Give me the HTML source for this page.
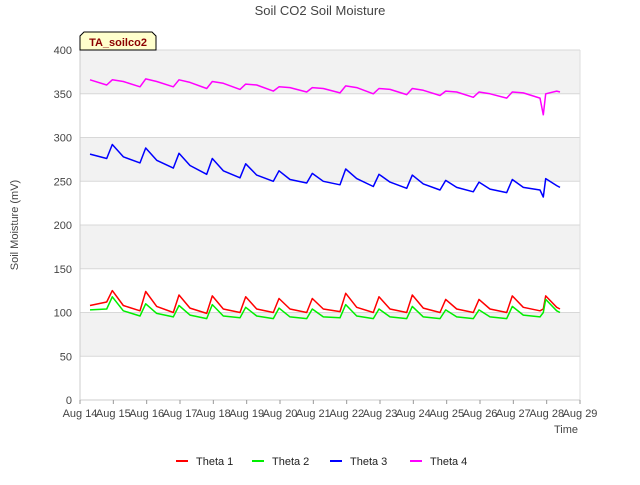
<!DOCTYPE html>
<html><head><meta charset="utf-8"><style>
body{margin:0;background:#fff;font-family:"Liberation Sans",sans-serif;}
</style></head><body>
<svg id="chart" width="640" height="480" xmlns="http://www.w3.org/2000/svg" font-family="Liberation Sans, sans-serif">
<rect width="640" height="480" fill="#fff"/>
<text x="320" y="15" text-anchor="middle" font-size="13" fill="#444">Soil CO2 Soil Moisture</text>
<g id="plot"></g>
<text transform="translate(18,225) rotate(-90)" text-anchor="middle" font-size="11" fill="#444">Soil Moisture (mV)</text>
<text x="566" y="433" text-anchor="middle" font-size="11" fill="#444">Time</text>
<g>
<path d="M80,50 L80,36 L84,32 L152,32 L156,36 L156,50 Z" fill="#ffffcc" stroke="#000" stroke-width="1"/>
<text x="118" y="46" text-anchor="middle" font-size="11" font-weight="bold" fill="#8b0000">TA_soilco2</text>
</g>
<g id="legend"></g>
</svg>
<script>
const seriesNames=["Theta 1","Theta 2","Theta 3","Theta 4"];
const colors=["#ff0000","#00ee00","#0000ff","#ff00ff"];
const yTicks=[0,50,100,150,200,250,300,350,400];
const xTickLabels=["Aug 14","Aug 15","Aug 16","Aug 17","Aug 18","Aug 19","Aug 20","Aug 21","Aug 22","Aug 23","Aug 24","Aug 25","Aug 26","Aug 27","Aug 28","Aug 29"];
const times=[14.3,14.8,14.97,15.3,15.8,15.97,16.3,16.8,16.97,17.3,17.8,17.97,18.3,18.8,18.97,19.3,19.8,19.97,20.3,20.8,20.97,21.3,21.8,21.97,22.3,22.8,22.97,23.3,23.8,23.97,24.3,24.8,24.97,25.3,25.8,25.97,26.3,26.8,26.97,27.3,27.8,27.9,27.97,28.3,28.4];
const theta1=[108,112,125,108,102,124,107,100,120,105,99,119,104,100,118,104,100,116,104,100,116,104,101,122,106,100,118,104,100,120,105,100,115,104,100,115,104,100,119,106,102,104,119,106,104];
const theta2=[103,104,118,102,96,110,99,95,108,97,93,109,96,94,106,96,93,105,95,93,104,95,94,109,96,93,104,95,93,107,95,93,103,95,93,103,95,93,107,97,95,100,115,102,100];
const theta3=[281,276,292,278,271,288,274,265,282,268,258,276,262,254,270,257,250,262,252,248,259,250,246,264,253,244,258,249,242,257,247,240,251,243,238,249,241,237,252,243,240,232,253,245,243];
const theta4=[366,360,366,364,358,367,364,358,366,363,356,364,362,355,361,360,353,358,357,352,357,356,351,359,357,350,356,355,349,356,354,348,353,352,346,352,350,345,352,351,345,326,350,353,352];
const allSeries=[theta1,theta2,theta3,theta4];
const NS="http://www.w3.org/2000/svg";
const X0=80,X1=580,Y0=400,Y1=50;
const xs=d=>X0+(d-14)*(X1-X0)/15;
const ys=v=>Y0-v*(Y0-Y1)/400;
const plot=document.getElementById('plot');
function mk(tag,attrs,parent){const e=document.createElementNS(NS,tag);for(const k in attrs)e.setAttribute(k,attrs[k]);parent.appendChild(e);return e;}
for(let i=0;i<yTicks.length-1;i++){
  if(i%2===1){const r=mk('rect',{x:X0,y:ys(yTicks[i+1]),width:X1-X0,height:ys(yTicks[i])-ys(yTicks[i+1]),fill:'#f2f2f2'},plot);
  
  }
}
yTicks.forEach(v=>{
  const l=mk('line',{x1:X0,x2:X1,y1:ys(v),y2:ys(v),stroke:'#d8d8d8','stroke-width':1},plot);
  
  
  const t=mk('text',{x:72,y:ys(v)+4,'text-anchor':'end','font-size':'11',fill:'#444'},plot);
  
  
  t.textContent=v;
});
mk('line',{x1:X0,x2:X0,y1:Y1,y2:Y0,stroke:'#ccc'},plot);
mk('line',{x1:X1,x2:X1,y1:Y1,y2:Y0,stroke:'#ddd'},plot);
mk('line',{x1:X0,x2:X1,y1:Y0,y2:Y0,stroke:'#ccc'},plot);
xTickLabels.forEach((s,i)=>{
  const x=xs(14+i);
  mk('line',{x1:x,x2:x,y1:Y0,y2:Y0+4,stroke:'#999'},plot);
  const t=mk('text',{x:x,y:417,'text-anchor':'middle','font-size':'11',fill:'#444'},plot);
  
  
  t.textContent=s;
});
allSeries.forEach((vals,si)=>{
  const d=vals.map((v,i)=>(i?'L':'M')+xs(times[i]).toFixed(1)+','+ys(v).toFixed(1)).join(' ');
  const p=mk('path',{d:d,fill:'none',stroke:colors[si],'stroke-width':1.5,'stroke-linejoin':'round'},plot);
  
  
});
const leg=document.getElementById('legend');
const lx=[176,252,330,410];
seriesNames.forEach((n,i)=>{
  const g=mk('g',{},leg);
  
  
  mk('line',{x1:lx[i],x2:lx[i]+12,y1:461,y2:461,stroke:colors[i],'stroke-width':2},g);
  const t=mk('text',{x:lx[i]+20,y:465,'font-size':'11',fill:'#222'},g);
  t.textContent=n;
});
</script>
</body></html>
